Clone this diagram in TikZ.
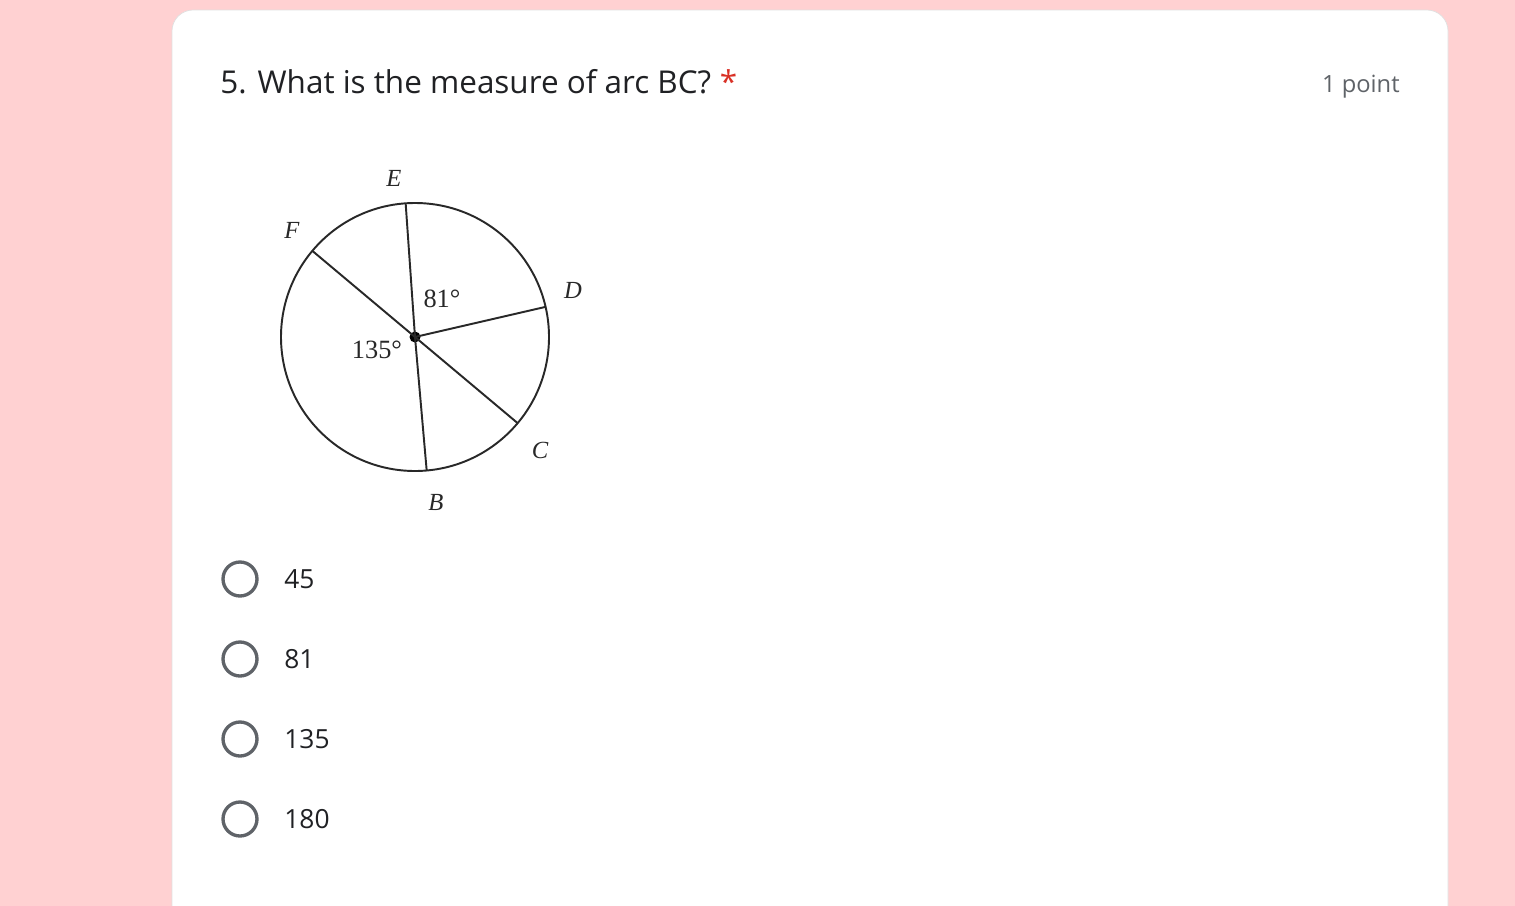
\documentclass[tikz,border=0pt]{standalone}
\usepackage{fontspec}
\setmainfont{Open Sans}
\newfontfamily\figfont{Liberation Serif}
\usetikzlibrary{positioning}
\definecolor{pagepink}{RGB}{255,209,210}
\definecolor{formgray}{RGB}{95,99,104}
\definecolor{starred}{RGB}{217,48,37}
\definecolor{textdark}{RGB}{32,33,36}
\definecolor{figink}{RGB}{40,40,40}
\tikzset{
    figline/.style={draw=figink, line width=1.1pt},
    ptlabel/.style={text=figink, font=\figfont\itshape\fontsize{14}{16}\selectfont},
    anglelabel/.style={text=figink, font=\figfont\fontsize{15}{17}\selectfont},
    radio/.style={circle, draw=formgray, line width=1.9pt, minimum size=0.68cm, inner sep=0pt},
    choice/.style={anchor=west, text=textdark, font=\fontsize{15}{18}\selectfont, inner sep=0pt}
}
\begin{document}
\begin{tikzpicture}[x=0.02cm, y=-0.02cm]
        \useasboundingbox (0,0) rectangle (1515,906);
        \fill[pagepink] (0,0) rectangle (1515,906);
        \draw[fill=white, draw=black!12, rounded corners=12] (172,10) rectangle (1448,930);

        \node[anchor=base west, text=textdark, font=\fontsize{17.9}{22}\selectfont, inner sep=0pt] (title) at (220,93) {5. What is the measure of arc BC?};
        \node[text=starred, font=\fontsize{17.9}{22}\selectfont, inner sep=0pt, right=0.16cm of title.base east, anchor=base west] (star) {*};
        \node[anchor=base east, text=formgray, font=\fontsize{13.5}{16}\selectfont, inner sep=0pt] (points) at (1400,92) {1 point};

        % circle with radii
        \node[circle, fill=black, inner sep=0pt, minimum size=0.22cm] (o) at (415,337) {};
        \draw[figline] (o.center) circle[radius=134];
        \foreach \pt/\ang in {e/94, d/13, c/-40, b/-85, f/140}
            \path (o.center) ++(-\ang:134) coordinate (\pt);
        \draw[figline] (f) -- (c);
        \draw[figline] (e) -- (o.center) -- (b);
        \draw[figline] (o.center) -- (d);

        \node[ptlabel] (lbl-e) at (394,178) {E};
        \node[ptlabel] (lbl-f) at (292,230) {F};
        \node[ptlabel] (lbl-d) at (573,290) {D};
        \node[ptlabel] (lbl-c) at (540,450) {C};
        \node[ptlabel] (lbl-b) at (436,502) {B};
        \node[anglelabel] (ang-ed) at (442,299) {81°};
        \node[anglelabel] (ang-fb) at (377,350) {135°};

        % answer choices
        \foreach \val [count=\i from 0] in {45, 81, 135, 180} {
            \node[radio] (radio-\i) at (240,579+80*\i) {};
            \node[choice] (opt-\i) at (284,579+80*\i) {\val};
        }
\end{tikzpicture}
\end{document}
